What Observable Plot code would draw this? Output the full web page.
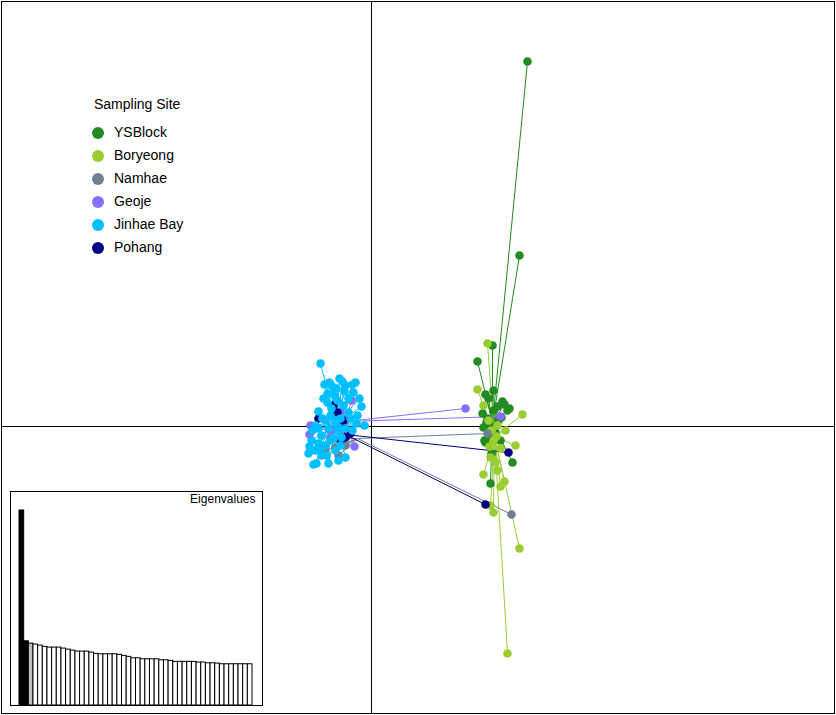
<!DOCTYPE html>
<html>
<head>
<meta charset="utf-8">
<script src="https://cdn.jsdelivr.net/npm/d3@7"></script>
<script src="https://cdn.jsdelivr.net/npm/@observablehq/plot@0.6"></script>
<style>
  body { margin: 0; background: #fff; }
  #wrap { position: relative; width: 836px; height: 715px; font-family: "Liberation Sans", Arial, sans-serif; }
  #wrap > svg, #inset { position: absolute; }
  #legend { position: absolute; left: 0; top: 0; font-size: 14px; color: #000; }
  .lg-title { position: absolute; left: 94px; top: 96px; white-space: nowrap; }
  .lg-item { position: absolute; left: 92px; height: 14px; white-space: nowrap; }
  .lg-dot { position: absolute; left: 0; top: 1px; width: 12px; height: 12px; border-radius: 50%; }
  .lg-label { position: absolute; left: 22px; top: -2px; }
</style>
</head>
<body>
<div id="wrap"><div id="legend"></div></div>
<script>
// ---- data ----
const sites = ["YSBlock", "Boryeong", "Namhae", "Geoje", "Jinhae Bay", "Pohang"];
const siteColors = ["#228B22", "#9ACD32", "#708090", "#8470FF", "#00BFFF", "#000080"];
// order in which the groups' dots are painted (later = on top)
const drawOrder = ["YSBlock", "Boryeong", "Namhae", "Geoje", "Pohang", "Jinhae Bay"];

// group centroids (LD1, LD2)
const centroids = [
  [1.21, 0.04],   // YSBlock
  [1.23, -0.10],  // Boryeong
  [-0.14, -0.12], // Namhae
  [-0.26, 0.05],  // Geoje
  [-0.35, 0.02],  // Jinhae Bay
  [-0.26, -0.08]  // Pohang
];

const ysblock = [
  [1.56, 3.65], [1.48, 1.71], [1.06, 0.65], [1.21, 0.81], [1.22, 0.36], [1.14, 0.32],
  [1.17, 0.28], [1.31, 0.25], [1.36, 0.16], [1.38, 0.18], [1.11, 0.13], [1.22, 0.16],
  [1.12, -0.01], [1.14, -0.16], [1.17, -0.12], [1.41, -0.36], [1.19, -0.57], [1.27, 0.06],
  [1.19, 0.01], [1.24, -0.06], [1.16, 0.08], [1.29, -0.14], [1.13, -0.14], [1.26, 0.20],
  [1.15, 0.04], [1.30, 0.09], [1.20, -0.27], [1.33, 0.22]
];
const boryeong = [
  [1.36, -2.27], [1.48, -1.22], [1.16, 0.83], [1.06, 0.37], [1.12, 0.21], [1.51, 0.12],
  [1.44, -0.19], [1.19, -0.31], [1.24, -0.36], [1.12, -0.48], [1.33, -0.55], [1.29, -0.60],
  [1.22, -0.86], [1.19, -0.79], [1.26, 0.01], [1.20, -0.04], [1.29, -0.22], [1.22, -0.14],
  [1.26, -0.44], [1.17, 0.06], [1.34, -0.04], [1.25, -0.10], [1.18, -0.20]
];
const namhae = [
  [1.40, -0.88], [1.16, -0.07], [-0.46, -0.24], [-0.36, -0.21], [-0.26, -0.19],
  [-0.33, -0.29], [-0.41, -0.12]
];
const geoje = [
  [0.94, 0.18], [1.29, 0.10], [-0.61, 0.01], [-0.62, -0.08], [-0.20, 0.26],
  [-0.17, -0.20], [-0.26, 0.06], [-0.41, -0.04], [-0.31, 0.14]
];
const jinhae = [
  [-0.51, 0.63], [-0.47, 0.42], [-0.42, 0.44], [-0.32, 0.48], [-0.29, 0.45], [-0.19, 0.42],
  [-0.16, 0.44], [-0.44, 0.33], [-0.39, 0.33], [-0.27, 0.35], [-0.18, 0.34], [-0.34, 0.26],
  [-0.44, 0.24], [-0.10, 0.20], [-0.40, 0.18], [-0.53, 0.15], [-0.23, 0.14], [-0.07, 0.01],
  [-0.56, 0.01], [-0.50, -0.09], [-0.60, -0.14], [-0.38, -0.12], [-0.53, -0.17], [-0.63, -0.27],
  [-0.56, -0.24], [-0.50, -0.29], [-0.55, -0.37], [-0.43, -0.37], [-0.26, -0.31], [-0.36, -0.24],
  [-0.58, -0.38], [-0.41, 0.11], [-0.36, 0.06], [-0.31, 0.08], [-0.46, 0.06], [-0.26, -0.02],
  [-0.33, -0.04], [-0.43, -0.02], [-0.49, 0.08], [-0.28, 0.21], [-0.21, 0.08], [-0.14, 0.11],
  [-0.19, -0.04], [-0.46, -0.19], [-0.31, -0.19], [-0.41, -0.14], [-0.59, -0.04], [-0.53, -0.02],
  [-0.48, 0.28], [-0.23, 0.28], [-0.35, 0.38], [-0.26, 0.41], [-0.40, 0.41], [-0.12, 0.28],
  [-0.62, -0.20], [-0.45, -0.29], [-0.33, -0.34], [-0.50, -0.21], [-0.37, 0.31],
  [-0.30, -0.11], [-0.15, 0.03]
];
const pohang = [
  [1.37, -0.26], [1.14, -0.78], [-0.53, 0.08], [-0.38, 0.21], [-0.34, 0.14],
  [-0.28, 0.06], [-0.26, -0.11], [-0.21, -0.07], [-0.31, -0.14]
];
const groupPoints = [ysblock, boryeong, namhae, geoje, jinhae, pohang];

// eigenvalues of the inset barplot
const eigenvalues = [
  195.3, 64.3, 62, 61, 60, 58.7, 58, 58, 58, 57, 56, 55, 54, 54, 54, 53, 51.7,
  51.3, 51.3, 51.3, 51.3, 50.7, 49.7, 48.7, 47.3, 47.3, 46.3, 46.3, 46.3, 46.3,
  45.3, 45.3, 44.7, 43.7, 43.7, 43.7, 43.7, 43.7, 43, 43, 42.3, 42.3, 42,
  41.3, 41.3, 41.3, 41.3, 41.3, 41.3, 41.3
];
const eigFills = eigenvalues.map((d, i) => i < 2 ? "black" : (i === 2 ? "#bebebe" : "white"));

// ---- tables ----
const pts = [];
groupPoints.forEach((arr, g) => arr.forEach(([x, y]) => pts.push({
  site: sites[g], x, y, cx: centroids[g][0], cy: centroids[g][1]
})));
const ptsByDraw = drawOrder.flatMap(s => pts.filter(p => p.site === s));
const eig = eigenvalues.map((v, i) => ({i: i + 1, v, fill: eigFills[i]}));

const colorOpt = {domain: sites, range: siteColors};

const main = Plot.plot({
  width: 836, height: 715,
  margin: 0,
  x: {domain: [-3.71, 4.65], axis: null},
  y: {domain: [-2.89, 4.26], axis: null},
  color: colorOpt,
  marks: [
    Plot.frame({stroke: "black", strokeWidth: 1, insetLeft: 1, insetTop: 1, insetRight: 2, insetBottom: 2}),
    Plot.ruleX([0], {stroke: "black", strokeWidth: 1, insetTop: 1, insetBottom: 2}),
    Plot.ruleY([0], {stroke: "black", strokeWidth: 1, insetLeft: 1, insetRight: 2}),
    Plot.link(ptsByDraw, {x1: "cx", y1: "cy", x2: "x", y2: "y", stroke: "site", strokeWidth: 1}),
    Plot.dot(ptsByDraw, {x: "x", y: "y", fill: "site", r: 4.3, stroke: "none"})
  ]
});
main.style.left = "0px"; main.style.top = "0px";
document.getElementById("wrap").appendChild(main);

const inset = Plot.plot({
  width: 253, height: 215,
  margin: 0,
  x: {type: "band", domain: eig.map(d => d.i), range: [9, 242], padding: 0, axis: null},
  y: {domain: [0, 195.3], range: [214, 19], axis: null},
  style: {background: "white", overflow: "visible"},
  marks: [
    Plot.frame({fill: "white", stroke: "black", strokeWidth: 1, insetLeft: 0, insetTop: 0, insetRight: 1, insetBottom: 1}),
    Plot.barY(eig, {x: "i", y: "v", fill: "fill", stroke: "black", strokeWidth: 1}),
    Plot.text(["Eigenvalues"], {frameAnchor: "top-right", dx: -8, dy: 3, lineAnchor: "top",
      textAnchor: "end", fontSize: 12, fill: "black",
      fontFamily: "Liberation Sans, Arial, sans-serif"})
  ]
});
inset.id = "inset";
inset.style.left = "10px"; inset.style.top = "491px";
document.getElementById("wrap").appendChild(inset);

// legend
const legend = document.getElementById("legend");
const t = document.createElement("div");
t.className = "lg-title"; t.textContent = "Sampling Site";
legend.appendChild(t);
sites.forEach((s, i) => {
  const it = document.createElement("div");
  it.className = "lg-item";
  it.style.top = (126 + i * 23) + "px";
  it.innerHTML = `<span class="lg-dot" style="background:${siteColors[i]}"></span><span class="lg-label">${s}</span>`;
  legend.appendChild(it);
});
document.getElementById("wrap").appendChild(legend);
</script>
</body>
</html>
